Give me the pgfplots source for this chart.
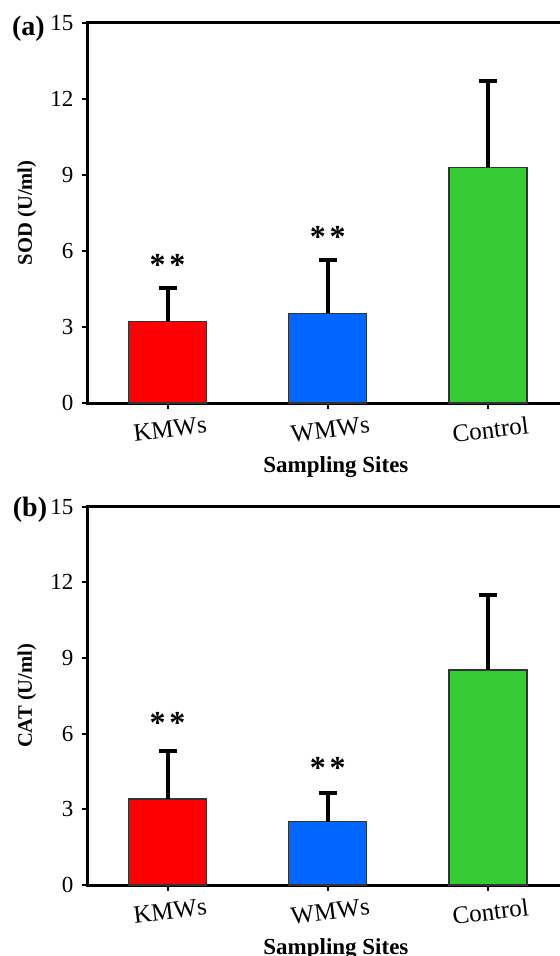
\documentclass[border=0pt]{standalone}
\usepackage{fontspec}
\setmainfont{Liberation Serif}
\usepackage{pgfplots}
\pgfplotsset{compat=1.18}
\definecolor{cred}{RGB}{255,0,0}
\definecolor{cblue}{RGB}{0,102,255}
\definecolor{cgreen}{RGB}{51,204,51}
\tikzset{mystar/.style={font=\bfseries\fontsize{16}{16}\selectfont, anchor=center}}
\newcommand{\twostars}{*\hspace{0.12em}*}
\pgfplotsset{
  mystyle/.style={
    scale only axis,
    width=240.25pt,
    xmin=-0.5, xmax=2.5, ymin=0, ymax=15,
    ytick={0,3,6,9,12,15},
    xtick={0,1,2}, xticklabels={KMWs,WMWs,Control},
    xtick pos=left, ytick pos=left,
    tick align=outside,
    major tick length=3pt,
    axis line style={line width=1.5pt},
    every tick/.style={black, line width=1pt},
    /pgf/number format/assume math mode=true,
    yticklabel style={font=\fontsize{11.5}{12}\selectfont, xshift=-0.5pt},
    xticklabel style={font=\fontsize{12.5}{14}\selectfont, rotate=7, anchor=north, yshift=-2.5pt},
    xlabel={Sampling Sites},
    xlabel style={font=\bfseries\fontsize{11.5}{13}\selectfont, at={(axis description cs:0.517,0)}, anchor=center, yshift=-32pt},
    ylabel style={font=\bfseries\fontsize{10.3}{12}\selectfont, at={(axis description cs:-0.126,0.5)}, anchor=center},
  },
  mybar/.style={ybar, bar shift=0pt, bar width=39pt, fill=#1, draw=black!80, line width=0.6pt,
    error bars/.cd, y dir=plus, y explicit,
    error bar style={line width=2pt, black},
    error mark=|,
    error mark options={line width=2pt, mark size=4.5pt, black}},
}
\begin{document}
\begin{tikzpicture}
\begin{axis}[mystyle, height=190.2pt, at={(43.75pt,-201.5pt)}, anchor=south west, ylabel={SOD (U/ml)}]
  \addplot[mybar=cred] coordinates {(0,3.21) +- (0,1.34)};
  \addplot[mybar=cblue] coordinates {(1,3.54) +- (0,2.09)};
  \addplot[mybar=cgreen] coordinates {(2,9.28) +- (0,3.43)};
  \node[mystar] at (axis cs:0,5.45) {\twostars};
  \node[mystar] at (axis cs:1,6.55) {\twostars};
\end{axis}
\begin{axis}[mystyle, height=189.2pt, at={(43.75pt,-442.5pt)}, anchor=south west, ylabel={CAT (U/ml)}]
  \addplot[mybar=cred] coordinates {(0,3.41) +- (0,1.89)};
  \addplot[mybar=cblue] coordinates {(1,2.51) +- (0,1.13)};
  \addplot[mybar=cgreen] coordinates {(2,8.52) +- (0,2.98)};
  \node[mystar] at (axis cs:0,6.42) {\twostars};
  \node[mystar] at (axis cs:1,4.64) {\twostars};
\end{axis}
\node[font=\bfseries\fontsize{14}{14}\selectfont, anchor=center] at (14.25pt,-14.5pt) {(a)};
\node[font=\bfseries\fontsize{14}{14}\selectfont, anchor=center] at (15pt,-255pt) {(b)};
\pgfresetboundingbox
\path[use as bounding box] (0,0) rectangle (280pt,-478pt);
\end{tikzpicture}
\end{document}
